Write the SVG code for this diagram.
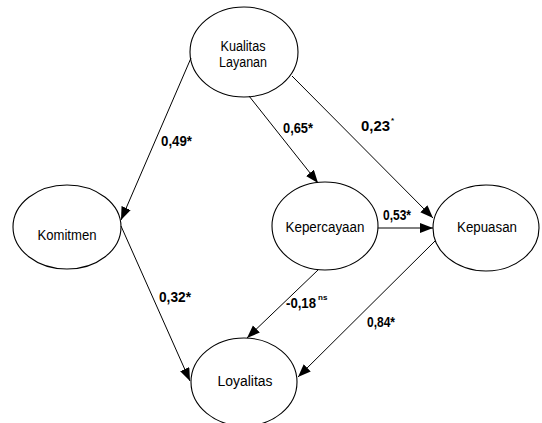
<svg xmlns="http://www.w3.org/2000/svg" width="542" height="423" viewBox="0 0 542 423">
<style>
.node ellipse{fill:#fff;stroke:#000;stroke-width:1.1}
.node text{font-family:"Liberation Sans",Arial,sans-serif;font-size:14px;fill:#000;text-anchor:middle}
.edges line{stroke:#000;stroke-width:1;marker-end:url(#ah)}
.lbl{font-family:"Liberation Sans",Arial,sans-serif;font-size:14.5px;font-weight:bold;fill:#000}
.sup{font-family:"Liberation Sans",Arial,sans-serif;font-size:8px;font-weight:bold;fill:#000}
</style>
<defs>
<marker id="ah" markerUnits="userSpaceOnUse" markerWidth="14" markerHeight="12" refX="13" refY="5" orient="auto">
<path d="M0,0 L13,5 L0,10 z" fill="#000"/>
</marker>
</defs>
<rect width="542" height="423" fill="#fff"/>
<g id="node-kualitas" class="node">
<ellipse cx="244" cy="52" rx="54" ry="45"/>
<text x="243" y="51" textLength="45" lengthAdjust="spacingAndGlyphs">Kualitas</text>
<text x="243" y="67" textLength="48" lengthAdjust="spacingAndGlyphs">Layanan</text>
</g>
<g id="node-komitmen" class="node">
<ellipse cx="67" cy="227" rx="54" ry="42"/>
<text x="67" y="240" textLength="59" lengthAdjust="spacingAndGlyphs">Komitmen</text>
</g>
<g id="node-kepercayaan" class="node">
<ellipse cx="325" cy="226" rx="53" ry="44"/>
<text x="325" y="232" textLength="79" lengthAdjust="spacingAndGlyphs">Kepercayaan</text>
</g>
<g id="node-kepuasan" class="node">
<ellipse cx="486" cy="228" rx="53" ry="43"/>
<text x="487" y="232" textLength="60" lengthAdjust="spacingAndGlyphs">Kepuasan</text>
</g>
<g id="node-loyalitas" class="node">
<ellipse cx="244" cy="382" rx="53" ry="44"/>
<text x="245" y="386" textLength="55" lengthAdjust="spacingAndGlyphs">Loyalitas</text>
</g>
<g id="connectors" class="edges">
<line x1="191" y1="58" x2="121" y2="220"/>
<line x1="249" y1="96" x2="318" y2="183"/>
<line x1="292" y1="76" x2="433" y2="218"/>
<line x1="378" y1="228" x2="433" y2="228"/>
<line x1="121" y1="226" x2="190" y2="381"/>
<line x1="318" y1="270" x2="247" y2="338"/>
<line x1="435" y1="241" x2="298" y2="377"/>
</g>
<g id="labels">
<text class="lbl" x="161" y="146" textLength="31" lengthAdjust="spacingAndGlyphs">0,49*</text>
<text class="lbl" x="283" y="133" textLength="30" lengthAdjust="spacingAndGlyphs">0,65*</text>
<text class="lbl" x="361" y="131" textLength="29" lengthAdjust="spacingAndGlyphs">0,23</text>
<text class="sup" x="391" y="123">*</text>
<text class="lbl" x="383" y="220" textLength="28" lengthAdjust="spacingAndGlyphs">0,53*</text>
<text class="lbl" x="286" y="308" textLength="30" lengthAdjust="spacingAndGlyphs">-0,18</text>
<text class="sup" x="318" y="300">ns</text>
<text class="lbl" x="367" y="327" textLength="28" lengthAdjust="spacingAndGlyphs">0,84*</text>
<text class="lbl" x="159" y="302" textLength="32" lengthAdjust="spacingAndGlyphs">0,32*</text>
</g>
</svg>
